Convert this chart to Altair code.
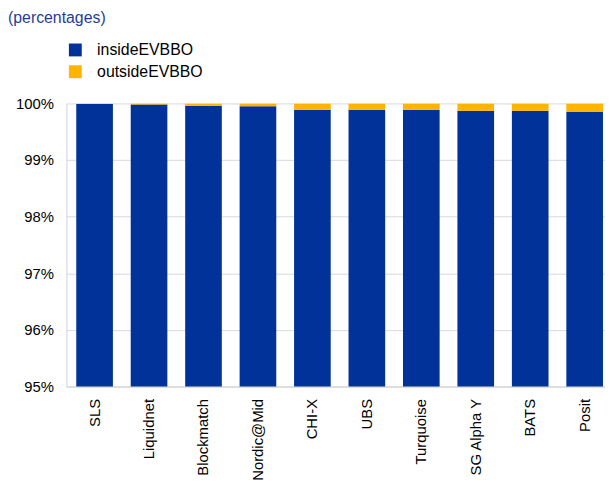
import altair as alt
import pandas as pd

venues = ["SLS", "Liquidnet", "Blockmatch", "Nordic@Mid", "CHI-X", "UBS",
          "Turquoise", "SG Alpha Y", "BATS", "Posit"]
inside = [99.99, 99.98, 99.96, 99.95, 99.89, 99.89, 99.89, 99.87, 99.87, 99.85]
outside = [round(100 - v, 2) for v in inside]
series = ["insideEVBBO", "outsideEVBBO"]
colors = ["#003299", "#FFB400"]
y_ticks = [95, 96, 97, 98, 99, 100]

rows = []
for v, i, o in zip(venues, inside, outside):
    rows.append({"venue": v, "series": series[0], "value": i, "ord": 0})
    rows.append({"venue": v, "series": series[1], "value": o, "ord": 1})
df = pd.DataFrame(rows)

font = "Arial, Liberation Sans, sans-serif"

chart = alt.Chart(df).mark_bar(clip=True).encode(
    x=alt.X("venue:N", sort=venues, title=None,
            scale=alt.Scale(paddingInner=0.327, paddingOuter=0.109, align=0.83),
            axis=alt.Axis(labelAngle=-90, labelAlign="right", labelBaseline="middle",
                          labelFontSize=15, labelPadding=12, ticks=False,
                          domainColor="#d0d0d0", labelColor="#000000", labelFont=font)),
    y=alt.Y("value:Q", stack="zero", title=None,
            scale=alt.Scale(domain=[95, 100], nice=False, zero=False),
            axis=alt.Axis(values=y_ticks, labelExpr="datum.value + '%'",
                          labelFontSize=15, labelPadding=13, ticks=False,
                          gridColor="#d9d9d9", domainColor="#d0d0d0",
                          labelColor="#000000", labelFont=font)),
    color=alt.Color("series:N", scale=alt.Scale(domain=series, range=colors),
                    legend=alt.Legend(title=None, orient="none", legendX=1, legendY=-62,
                                      symbolType="square", symbolSize=169,
                                      symbolStrokeWidth=0, labelFontSize=16,
                                      labelOffset=14, rowPadding=6,
                                      labelFont=font, labelColor="#000000")),
    order=alt.Order("ord:Q", sort="ascending"),
).properties(
    width=544, height=286,
    title=alt.TitleParams("(percentages)", anchor="start", frame="group",
                          dx=-59, dy=-12, fontSize=16, fontWeight="normal",
                          color="#1f3d99", font=font),
    autosize=alt.AutoSizeParams(type="none"),
    padding={"left": 59, "top": 94, "right": 0, "bottom": 92},
).configure_view(stroke=None)

chart.save("out.html", embed_options={"renderer": "svg", "actions": False})
